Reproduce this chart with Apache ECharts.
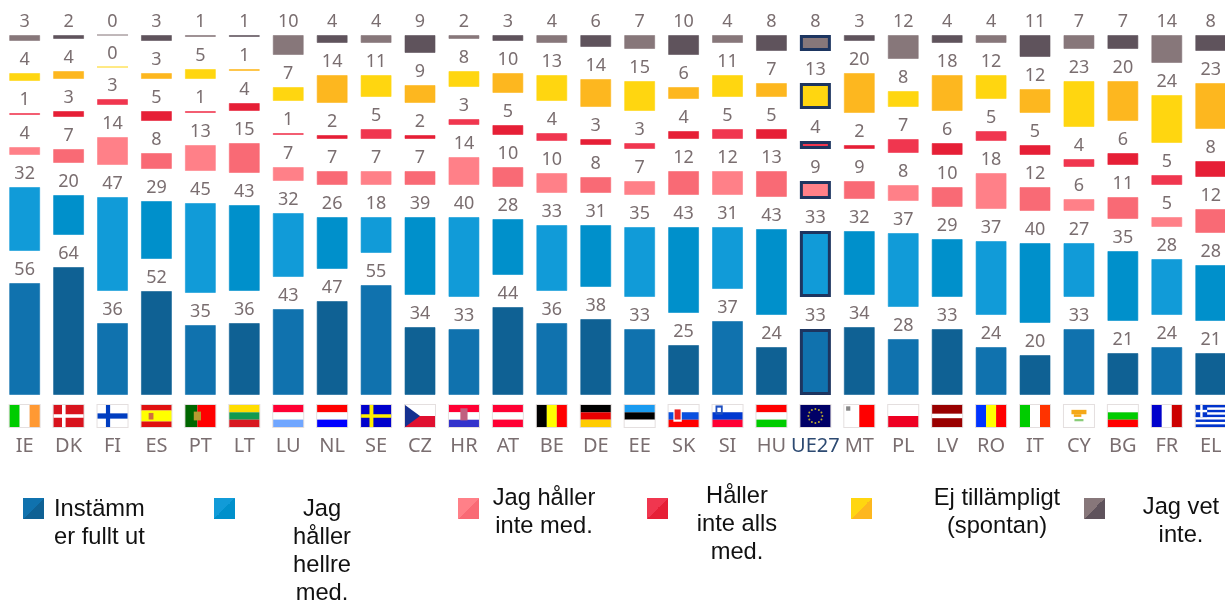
<!DOCTYPE html>
<html><head><meta charset="utf-8">
<style>html,body{margin:0;padding:0;background:#fff}#c{width:1225px;height:600px}</style>
<script src="https://cdn.jsdelivr.net/npm/echarts@6/dist/echarts.min.js"></script>
</head><body><div id="c"></div>
<script>
const categories = ['IE','DK','FI','ES','PT','LT','LU','NL','SE','CZ','HR','AT','BE','DE','EE','SK','SI','HU','UE27','MT','PL','LV','RO','IT','CY','BG','FR','EL'];
const instammFullt = [56,64,36,52,35,36,43,47,55,34,33,44,36,38,33,25,37,24,33,34,28,33,24,20,33,21,24,21];
const hallerHellre = [32,20,47,29,45,43,32,26,18,39,40,28,33,31,35,43,31,43,33,32,37,29,37,40,27,35,28,28];
const hallerInte   = [4,7,14,8,13,15,7,7,7,7,14,10,10,8,7,12,12,13,9,9,8,10,18,12,6,11,5,12];
const inteAlls     = [1,3,3,5,1,4,1,2,5,2,3,5,4,3,3,4,5,5,4,2,7,6,5,5,4,6,5,8];
const ejTillampligt= [4,4,0,3,5,1,7,14,11,9,8,10,13,14,15,6,11,7,13,20,8,18,12,12,23,20,24,23];
const vetInte      = [3,2,0,3,1,1,10,4,4,9,2,3,4,6,7,10,4,8,8,3,12,4,4,11,7,7,14,8];
const rowGapUnits = 16;

const rows = [
 {name:'Instämm er fullt ut', data:instammFullt, light:'#1072ae', dark:'#0f6194'},
 {name:'Jag håller hellre med.', data:hallerHellre, light:'#119bd8', dark:'#0090cb'},
 {name:'Jag håller inte med.', data:hallerInte, light:'#ff8088', dark:'#f96a75'},
 {name:'Håller inte alls med.', data:inteAlls, light:'#f0364f', dark:'#e61f36'},
 {name:'Ej tillämpligt (spontan)', data:ejTillampligt, light:'#ffd610', dark:'#fdb71f'},
 {name:'Jag vet inte.', data:vetInte, light:'#87777a', dark:'#5f535c'}
];
const legendLayout = [
 {x:23, lines:['Instämm','er fullt ut'], tx:54, ty:509, align:'left'},
 {x:214,lines:['Jag','håller','hellre','med.'], tx:322, ty:509, align:'center'},
 {x:458,lines:['Jag håller','inte med.'], tx:544, ty:498, align:'center'},
 {x:647,lines:['Håller','inte alls','med.'], tx:737, ty:496, align:'center'},
 {x:851,lines:['Ej tillämpligt','(spontan)'], tx:997, ty:498, align:'center'},
 {x:1084,lines:['Jag vet','inte.'], tx:1181, ty:507, align:'center'}
];

const W='#ffffff';
function h(c){const n=c.length;return c.map((k,i)=>[0,i/n,1,1/n,k]);}
function v(c){const n=c.length;return c.map((k,i)=>[i/n,0,1/n,1,k]);}
const flags = {
 IE:v(['#00cc00',W,'#ff9933']),
 DK:[[0,0,1,1,'#d8131d'],[.28,0,.12,1,W],[0,.42,1,.16,W]],
 FI:[[0,0,1,1,W],[.28,0,.14,1,'#003dc0'],[0,.38,1,.24,'#003dc0']],
 ES:[[0,0,1,.25,'#e01010'],[0,.25,1,.5,'#ffff00'],[0,.75,1,.25,'#e01010'],[.24,.36,.16,.3,'#d07040']],
 PT:[[0,0,.4,1,'#006600'],[.4,0,.6,1,'#ff0000'],[.28,.3,.24,.4,'#b89a30']],
 LT:h(['#ffdd00','#109a50','#d81820']),
 LU:h(['#ff0033',W,'#70a6ff']),
 NL:h(['#ff0000',W,'#0000ff']),
 SE:[[0,0,1,1,'#0000cc'],[.28,0,.13,1,'#ffee00'],[0,.42,1,.16,'#ffee00']],
 CZ:[[0,0,1,.5,W],[0,.5,1,.5,'#e01030'],{tri:'#15308f'}],
 HR:[[0,0,1,.33,'#ff0033'],[0,.33,1,.34,W],[0,.67,1,.33,'#3333cc'],[.38,.15,.24,.55,'#c06080']],
 AT:h(['#ff0033',W,'#ff0033']),
 BE:v(['#000000','#ffff00','#ff0000']),
 DE:h(['#000000','#e80000','#ffcc00']),
 EE:h(['#1a9bf0','#000000',W]),
 SK:[[0,0,1,.33,W],[0,.33,1,.34,'#0a50e0'],[0,.67,1,.33,'#ff0000'],[.16,.14,.28,.62,W],[.2,.2,.2,.46,'#ee2020']],
 SI:[[0,0,1,.33,W],[0,.33,1,.34,'#0038d0'],[0,.67,1,.33,'#ff0033'],[.1,.02,.24,.42,'#2050c0'],[.16,.12,.12,.2,W]],
 HU:h(['#ff0000',W,'#00cc00']),
 UE27:[[0,0,1,1,'#000066'],{stars:'#b8a830'}],
 MT:[[0,0,.5,1,W],[.5,0,.5,1,'#ff0000'],[.06,.06,.14,.2,'#888888']],
 PL:h([W,'#ee0022']),
 LV:[[0,0,1,.4,'#990000'],[0,.4,1,.2,W],[0,.6,1,.4,'#990000']],
 RO:v(['#0033ff','#ffff00','#ff0000']),
 IT:v(['#00cc00',W,'#ff3300']),
 CY:[[0,0,1,1,W],[.25,.22,.5,.2,'#f5a818'],[.33,.42,.25,.12,'#f5a818'],[.35,.64,.3,.1,'#88cc77']],
 BG:h([W,'#00cc00','#ff0000']),
 FR:v(['#0000cc',W,'#cc0000']),
 EL:[[0,0,1,1,W],[0,0,1,.11,'#0033cc'],[0,.22,1,.11,'#0033cc'],[0,.44,1,.11,'#0033cc'],[0,.66,1,.11,'#0033cc'],[0,.88,1,.12,'#0033cc'],[0,0,.38,.55,'#0033cc'],[.15,0,.08,.55,W],[0,.22,.38,.11,W]]
};
const FW=30, FH=22, FTOP=10;
function renderFlag(params, api){
  const i=api.value(0), p=api.coord([i,0]), x0=p[0]-FW/2, y0=p[1]+FTOP;
  const kids=[];
  kids.push({type:'rect',shape:{x:x0-1,y:y0-1,width:FW+2,height:FH+2},style:{fill:'#e4dfdf'}});
  (flags[categories[i]]||[]).forEach(f=>{
    if(Array.isArray(f)){
      kids.push({type:'rect',shape:{x:x0+f[0]*FW,y:y0+f[1]*FH,width:f[2]*FW,height:f[3]*FH},style:{fill:f[4]}});
    } else if(f.tri){
      kids.push({type:'polygon',shape:{points:[[x0,y0],[x0+FW*.5,y0+FH/2],[x0,y0+FH]]},style:{fill:f.tri}});
    } else if(f.stars){
      for(let k=0;k<12;k++){const a=k*Math.PI/6;
        kids.push({type:'circle',shape:{cx:x0+FW/2+7*Math.cos(a),cy:y0+FH/2+7*Math.sin(a),r:1},style:{fill:f.stars}});}
    }
  });
  return {type:'group',children:kids};
}

const series=[];
rows.forEach((r,ri)=>{
  if(ri>0) series.push({name:'mellanrum'+ri,type:'bar',stack:'t',barWidth:31,silent:true,
    data:categories.map(()=>rowGapUnits),itemStyle:{color:'transparent'},label:{show:false}});
  series.push({name:r.name,type:'bar',stack:'t',barWidth:31,
    itemStyle:{color:r.light,borderColor:r.light+'99',borderWidth:1},
    label:{show:true,position:'top',distance:4,fontFamily:'Noto Sans',fontSize:18,color:'#7a6e70'},
    data:r.data.map((val,i)=>{
      const o={value:val,itemStyle:{color:i%2?r.dark:r.light,borderColor:(i%2?r.dark:r.light)+'99',borderWidth:1}};
      if(categories[i]==='UE27') o.itemStyle={color:r.light,borderColor:'#1d3560',borderWidth:3};
      return o;
    })});
});
series.push({name:'flaggor',type:'custom',renderItem:renderFlag,clip:false,silent:true,
  data:categories.map((c,i)=>[i]),encode:{x:0},z:5});

const diag=(a,b)=>({type:'linear',x:0,y:0,x2:1,y2:1,colorStops:[{offset:0,color:a},{offset:.5,color:a},{offset:.5,color:b},{offset:1,color:b}]});
const legends=rows.map((r,i)=>({
  left:legendLayout[i].x,top:498,padding:0,icon:'rect',itemWidth:21,itemHeight:21,
  formatter:()=>'',selectedMode:false,
  data:[{name:r.name,itemStyle:{color:diag(r.light,r.dark),borderWidth:0}}]
}));
const LH=28;
const legendTexts=legendLayout.map(l=>({
  type:'text',x:l.tx,y:l.ty-LH/2,silent:true,
  style:{text:l.lines.join('\n'),x:0,y:0,align:l.align,verticalAlign:'top',lineHeight:LH,
    font:'23.7px "Liberation Sans"',fill:'#111111'}
}));

const chart=echarts.init(document.getElementById('c'),null,{renderer:'canvas'});
chart.setOption({
  animation:false,backgroundColor:'#ffffff',
  legend:legends,
  grid:{left:2.7,width:1230,top:35,height:360,containLabel:false,outerBoundsMode:'none'},
  xAxis:{type:'category',data:categories,axisLine:{show:false},axisTick:{show:false},
    axisLabel:{interval:0,margin:41,fontFamily:'Noto Sans',fontSize:20,
      color:(v)=>v==='UE27'?'#2d4a72':'#7a6e70'}},
  yAxis:{type:'value',min:0,max:180,show:false,splitLine:{show:false}},
  series,
  graphic:legendTexts
});
</script></body></html>
